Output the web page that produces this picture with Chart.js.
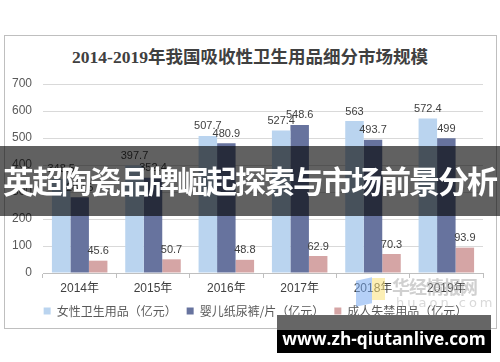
<!DOCTYPE html>
<html>
<head>
<meta charset="utf-8">
<script src="https://cdn.jsdelivr.net/npm/chart.js@4"></script>
<style>
  html, body { margin: 0; padding: 0; background: #fff; }
  #wrap { position: relative; width: 500px; height: 362px; overflow: hidden; background: #fff; }
  #frame { position: absolute; left: 4px; top: 35px; width: 491px; height: 292px; border: 1px solid #bfbfbf; }
  #title { position: absolute; left: 0; top: 45px; width: 500px; text-align: center; font: bold 17.5px 'Liberation Serif', 'Noto Sans CJK SC', serif; color: #404040; line-height: 24px; }
  #c { position: absolute; left: 0; top: 0; }
  #banner { position: absolute; left: 0; top: 146px; width: 500px; height: 70px; background: rgba(0,0,0,0.62); z-index: 5; }
  #banner span { position: absolute; left: 3px; top: 14px; font: bold 31px 'Noto Sans CJK SC', sans-serif; letter-spacing: -2px; color: #fff; line-height: 40px; white-space: nowrap; }
  #wm1 { position: absolute; left: 277px; top: 315px; width: 214px; height: 15px; background: #666; z-index: 6; }
  #wm2 { position: absolute; left: 277px; top: 330px; width: 214px; height: 23px; background: #000; z-index: 6; }
  #wmtext { position: absolute; left: 277px; top: 326px; width: 214px; text-align: center; font: bold 17.3px 'Open Sans', sans-serif; color: #fff; line-height: 26px; z-index: 7; white-space: nowrap; }
  #hj1 { position: absolute; left: 356px; top: 279px; width: 16px; height: 26px; background: rgba(120,170,240,0.55); transform: skewY(-12deg); z-index: 4; }
  #hj2 { position: absolute; left: 372px; top: 278px; width: 13px; height: 22px; background: rgba(250,225,120,0.55); z-index: 4; }
  #hjt { position: absolute; left: 392px; top: 274px; font: bold 18px 'Noto Sans CJK SC', sans-serif; color: rgba(170,170,170,0.55); line-height: 24px; z-index: 4; letter-spacing: -1px; }
  #hjs { position: absolute; left: 396px; top: 295px; font: 13px 'DejaVu Sans', sans-serif; color: rgba(180,180,180,0.5); letter-spacing: 3px; line-height: 16px; z-index: 4; }
</style>
</head>
<body>
<div id="wrap">
  <div id="frame"></div>
  <div id="title">2014-2019年我国吸收性卫生用品细分市场规模</div>
  <canvas id="c" width="500" height="362"></canvas>
  <div id="hj1"></div><div id="hj2"></div>
  <div id="hjt">华经情报网</div>
  <div id="hjs">huaon.com</div>
  <div id="banner"><span>英超陶瓷品牌崛起探索与市场前景分析</span></div>
  <div id="wm1"></div><div id="wm2"></div>
  <div id="wmtext">www.zh-qiutanlive.com</div>
</div>
<script>
const categories = ['2014年', '2015年', '2016年', '2017年', '2018年', '2019年'];
const seriesNames = ['女性卫生用品（亿元）', '婴儿纸尿裤/片（亿元）', '成人失禁用品（亿元）'];
const femaleCare = [348.5, 397.7, 507.7, 527.4, 563, 572.4];
const babyDiapers = [280.5, 352.4, 480.9, 548.6, 493.7, 499];
const adultIncontinence = [45.6, 50.7, 48.8, 62.9, 70.3, 93.9];
const yTicks = [0, 100, 200, 300, 400, 500, 600, 700];

const colors = ['#bad4ef', '#67739e', '#d5a5a5'];
Chart.defaults.font.family = "'Liberation Sans', 'Noto Sans CJK SC', sans-serif";

const labelPlugin = {
  id: 'valueLabels',
  afterLayout(chart) {
    if (chart.legend) { chart.legend.left += 14; chart.legend.right += 14; }
  },
  afterDatasetsDraw(chart) {
    const ctx = chart.ctx;
    ctx.save();
    ctx.font = "11px 'Liberation Sans', sans-serif";
    ctx.fillStyle = '#404040';
    ctx.textAlign = 'center';
    ctx.textBaseline = 'bottom';
    chart.data.datasets.forEach((ds, i) => {
      const meta = chart.getDatasetMeta(i);
      meta.data.forEach((bar, j) => {
        ctx.fillText(String(ds.data[j]), bar.x, bar.y - 4);
      });
    });
    ctx.restore();
  }
};

new Chart(document.getElementById('c'), {
  type: 'bar',
  data: {
    labels: categories,
    datasets: [
      { label: seriesNames[0], data: femaleCare, backgroundColor: colors[0] },
      { label: seriesNames[1], data: babyDiapers, backgroundColor: colors[1] },
      { label: seriesNames[2], data: adultIncontinence, backgroundColor: colors[2] }
    ]
  },
  options: {
    responsive: false,
    animation: false,
    devicePixelRatio: 1,
    categoryPercentage: 0.757,
    barPercentage: 1.0,
    layout: { padding: { left: 0, right: 17, top: 84, bottom: 35 } },
    plugins: {
      legend: {
        position: 'bottom',
        labels: {
          boxWidth: 7, boxHeight: 7, padding: 10,
          color: '#595959',
          font: { size: 12, family: "'Noto Sans CJK SC', sans-serif" }
        }
      },
      title: { display: false },
      tooltip: { enabled: false }
    },
    scales: {
      x: {
        grid: { display: true, drawOnChartArea: false, drawTicks: true, tickLength: 5, color: '#bfbfbf', offset: true },
        border: { display: true, color: '#bfbfbf' },
        ticks: { color: '#404040', padding: 3, font: { size: 12 } },
        afterFit(scale) { scale.height = 22; }
      },
      y: {
        min: 0, max: 700,
        afterBuildTicks(scale) { scale.ticks = yTicks.map(v => ({ value: v })); },
        grid: { color: '#d9d9d9', drawTicks: false },
        border: { display: false },
        ticks: { color: '#595959', padding: 11, font: { size: 12 } },
        afterFit(scale) { scale.width = 43; }
      }
    }
  },
  plugins: [labelPlugin]
});
</script>
</body>
</html>
